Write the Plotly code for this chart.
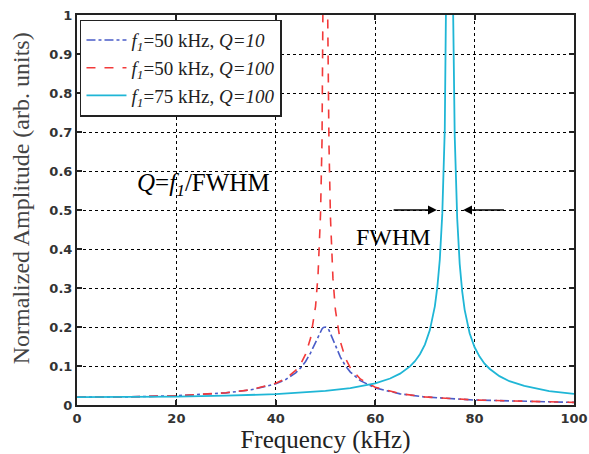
import plotly.graph_objects as go

# Frequencies (kHz) and normalized amplitudes
freq_50 = [0, 10, 20, 30, 35, 40, 42, 44, 45, 46, 47, 48, 48.5, 49, 49.3, 49.5, 49.6,
           50, 50.4, 50.5, 50.7, 51, 51.5, 52, 53, 54, 55, 57, 60, 65, 70, 80, 90, 100]
amp_q10 = [0.02, 0.0208, 0.0238, 0.0311, 0.0389, 0.0542, 0.0653, 0.0826, 0.0951, 0.1117,
           0.1337, 0.1613, 0.175, 0.1892, 0.195, 0.198, 0.199,
           0.2, 0.197, 0.196, 0.192, 0.1823, 0.167, 0.1513, 0.1228, 0.1008, 0.0844,
           0.0624, 0.0439, 0.0285, 0.0206, 0.01275, 0.0089, 0.00665]
amp_q100 = [0.02, 0.0208, 0.0238, 0.0313, 0.0392, 0.0556, 0.0679, 0.0887, 0.105, 0.1302,
            0.1718, 0.253, 0.334, 0.49, 0.678, 0.9, 1.066,
            2.0, 1.054, 0.889, 0.667, 0.48, 0.324, 0.243, 0.162, 0.12, 0.0952,
            0.0668, 0.0455, 0.029, 0.0208, 0.0128, 0.0089, 0.0067]

freq_75 = [0, 10, 20, 30, 40, 50, 55, 60, 63, 65, 67, 68, 69, 70, 71, 72, 72.5, 73, 73.5,
           74, 74.3, 74.5, 75, 75.5, 75.7, 76, 76.5, 77, 77.5, 78, 79, 80, 81, 82, 83,
           85, 87, 90, 95, 100]
amp_75 = [0.02, 0.0204, 0.0215, 0.0238, 0.028, 0.036, 0.0433, 0.0556, 0.0679, 0.0804,
          0.099, 0.1124, 0.1302, 0.1548, 0.192, 0.253, 0.302, 0.373, 0.49,
          0.707, 0.953, 1.2, 2.0, 1.19, 0.94, 0.69, 0.478, 0.362, 0.292, 0.244, 0.184,
          0.148, 0.124, 0.106, 0.093, 0.074, 0.061, 0.0488, 0.0357, 0.0286]

legend_names = ["<i>f<sub>1</sub></i>=50 kHz, <i>Q=10</i>",
                "<i>f<sub>1</sub></i>=50 kHz, <i>Q=100</i>",
                "<i>f<sub>1</sub></i>=75 kHz, <i>Q=100</i>"]

x_ticks = [0, 20, 40, 60, 80, 100]
y_ticks = [0, 0.1, 0.2, 0.3, 0.4, 0.5, 0.6, 0.7, 0.8, 0.9, 1]

serif = "Liberation Serif"

fig = go.Figure()
fig.add_trace(go.Scatter(x=freq_50, y=amp_q10, mode="lines", name=legend_names[0],
                         line=dict(color="#4a5cc8", width=1.6, dash="dashdot")))
fig.add_trace(go.Scatter(x=freq_50, y=amp_q100, mode="lines", name=legend_names[1],
                         line=dict(color="#f23a3a", width=1.6, dash="dash")))
fig.add_trace(go.Scatter(x=freq_75, y=amp_75, mode="lines", name=legend_names[2],
                         line=dict(color="#1fb6d6", width=1.8)))

axis_common = dict(
    showgrid=True, gridcolor="black", griddash="dot", gridwidth=1,
    showline=True, linecolor="#222", linewidth=2, mirror="ticks",
    ticks="inside", ticklen=5, tickcolor="#222", tickwidth=1.5,
    zeroline=False, automargin=False, ticklabeloverflow="allow",
    tickfont=dict(family="DejaVu Sans", size=13, color="#333", weight="bold"),
)

fig.update_xaxes(range=[0, 100], tickvals=x_ticks,
                 title=dict(text="Frequency (kHz)", font=dict(family=serif, size=25, color="#222"),
                            standoff=4),
                 **axis_common)
fig.update_yaxes(range=[0, 1], tickvals=y_ticks, **axis_common)

# y-axis title as a rotated annotation so its centre matches the reference
fig.add_annotation(x=-0.112, y=0.531, xref="paper", yref="paper", xanchor="center",
                   yanchor="middle", textangle=-90, showarrow=False,
                   text="Normalized Amplitude (arb. units)",
                   font=dict(family=serif, size=24, color="#444"))

fig.add_annotation(x=72.4, y=0.5, ax=63.4, ay=0.5, xref="x", yref="y", axref="x", ayref="y",
                   text="", showarrow=True, arrowhead=2, arrowsize=1.1, arrowwidth=1.6,
                   arrowcolor="black")
fig.add_annotation(x=77.7, y=0.5, ax=86.2, ay=0.5, xref="x", yref="y", axref="x", ayref="y",
                   text="", showarrow=True, arrowhead=2, arrowsize=1.1, arrowwidth=1.6,
                   arrowcolor="black")
fig.add_annotation(x=55.8, y=0.43, xref="x", yref="y", text="FWHM", showarrow=False,
                   font=dict(family=serif, size=24, color="black"), xanchor="left")
fig.add_annotation(x=11.6, y=0.565, xref="x", yref="y",
                   text="<i>Q</i>=<i>f<sub>1</sub></i>/FWHM", showarrow=False,
                   font=dict(family=serif, size=25, color="black"), xanchor="left")

fig.update_layout(
    width=589, height=454,
    margin=dict(l=77, r=15, t=15, b=49),
    paper_bgcolor="white", plot_bgcolor="white",
    showlegend=True,
    legend=dict(x=0.006, y=0.988, xanchor="left", yanchor="top",
                bgcolor="white", bordercolor="#222", borderwidth=1.5,
                font=dict(family=serif, size=19, color="#222"),
                tracegroupgap=0, itemwidth=40),
)

# remove the default page margin so the figure fills the 589x454 window exactly
fig.write_html("out.html", config={"displayModeBar": False},
               post_script="document.body.style.margin='0';document.body.style.overflow='hidden';")
